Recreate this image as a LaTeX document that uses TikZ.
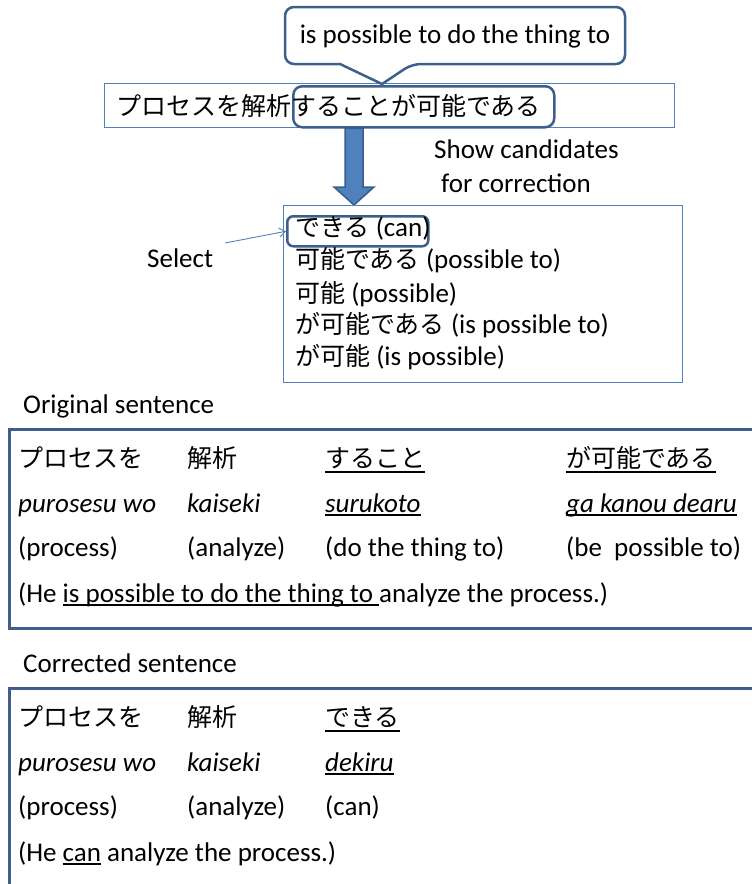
\documentclass[tikz,border=0pt]{standalone}
\usepackage{fontspec}
\setmainfont{Carlito}
\newfontfamily\jp{Noto Sans CJK JP}[Scale=0.926]
\usetikzlibrary{arrows.meta}
\definecolor{lightblue}{HTML}{4F81BD}
\definecolor{darkblue}{HTML}{3C5F8C}
\definecolor{boxblue}{HTML}{3F5E8E}
\definecolor{arrowedge}{HTML}{385D8A}
\newcommand\myul[2][4pt]{\setbox0\hbox{#2}\rlap{\rule[-#1]{\wd0}{1.6pt}}\box0\relax}
\begin{document}
\begin{tikzpicture}[x=1pt,y=-1pt,
  every node/.style={inner sep=0pt, font=\fontsize{27}{32}\selectfont},
  txt/.style={anchor=base west},
  thinbox/.style={draw=lightblue, line width=1pt, anchor=north west},
  hlbox/.style={draw=darkblue, line width=2.5pt, rounded corners=9pt, anchor=north west},
  bigbox/.style={draw=boxblue, line width=3pt},
  fatarrow/.style={fill=lightblue, draw=arrowedge, line width=1.5pt, line join=miter},
  thinarrow/.style={draw=lightblue, line width=0.9pt, -{Straight Barb[length=6pt,width=9pt]}}
]
\useasboundingbox (0,0) rectangle (752,884);

% top sentence and callout
\node[thinbox, minimum width=570pt, minimum height=44pt] (sent) at (104,83) {};
\node[hlbox, minimum width=261pt, minimum height=41pt] (hl) at (292,85) {};
\node[anchor=west] (senttext) at (116,106) {\jp プロセスを解析することが可能である};
\coordinate (tip) at (382,84);
\node (calltext) at (455,36) {is possible to do the thing to};
\draw[draw=darkblue, line width=2.5pt] (tip) -- (340,64) [rounded corners=9pt] -- (285,64) -- (285,7) -- (625,7) -- (625,64) -- (412,64) [sharp corners] -- cycle;

% big arrow
\draw[fatarrow] (345,128) -- (363,128) -- (363,187) -- (374,187) -- (354,205) -- (334,187) -- (345,187) -- cycle;
\node[txt] (show1) at (434,158) {Show candidates};
\node[txt] (show2) at (441,192) {for correction};

% candidate box
\node[thinbox, minimum width=399pt, minimum height=177pt] (cand) at (283,205) {};
\node[hlbox, rounded corners=6pt, minimum width=141pt, minimum height=30pt] (candhl) at (286,215) {};
\node[txt] (c1) at (295,236) {{\jp できる} (can)};
\node[txt] (c2) at (295,268) {{\jp 可能である} (possible to)};
\node[txt] (c3) at (295,302) {{\jp 可能} (possible)};
\node[txt] (c4) at (295,333) {{\jp が可能である} (is possible to)};
\node[txt] (c5) at (295,365) {{\jp が可能} (is possible)};
\node[txt] (sel) at (147,267) {Select};
\coordinate (selfrom) at (225,243);
\draw[thinarrow] (selfrom) -- (candhl.west);

% original sentence
\node[txt] (olab) at (23,413) {Original sentence};
\draw[bigbox] (753,429) -- (9,429) -- (9,628) -- (753,628);
\node[txt] (o11) at (18,467) {\jp プロセスを};
\node[txt] (o12) at (187,467) {\jp 解析};
\node[txt] (o13) at (325,467) {\myul[6pt]{\jp すること}};
\node[txt] (o14) at (566,467) {\myul[6pt]{\jp が可能である}};
\node[txt] (o21) at (18,512) {\textit{purosesu wo}};
\node[txt] (o22) at (187,512) {\textit{kaiseki}};
\node[txt] (o23) at (325,512) {\myul{\textit{surukoto}}};
\node[txt] (o24) at (566,512) {\myul{\textit{ga kanou dearu}}};
\node[txt] (o31) at (18,556) {(process)};
\node[txt] (o32) at (187,556) {(analyze)};
\node[txt] (o33) at (325,556) {(do the thing to)};
\node[txt] (o34) at (566,556) {(be\ \ possible to)};
\node[txt] (o41) at (18,602) {(He \myul{is possible to do the thing to\ }analyze the process.)};

% corrected sentence
\node[txt] (clab) at (23,672) {Corrected sentence};
\draw[bigbox] (753,688) -- (9,688) -- (9,886);
\node[txt] (k11) at (18,726) {\jp プロセスを};
\node[txt] (k12) at (187,726) {\jp 解析};
\node[txt] (k13) at (325,726) {\myul[6pt]{\jp できる}};
\node[txt] (k21) at (18,771) {\textit{purosesu wo}};
\node[txt] (k22) at (187,771) {\textit{kaiseki}};
\node[txt] (k23) at (325,771) {\myul{\textit{dekiru}}};
\node[txt] (k31) at (18,815) {(process)};
\node[txt] (k32) at (187,815) {(analyze)};
\node[txt] (k33) at (325,815) {(can)};
\node[txt] (k41) at (18,861) {(He \myul{can} analyze the process.)};
\end{tikzpicture}
\end{document}
